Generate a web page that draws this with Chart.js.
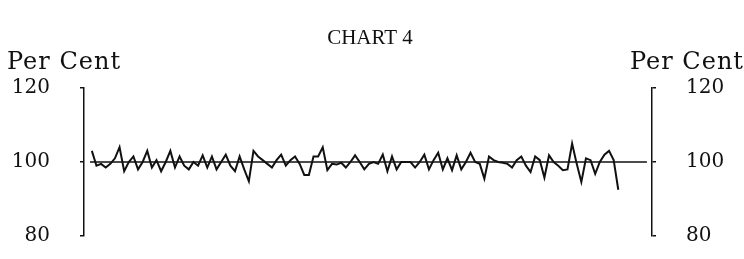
<!DOCTYPE html>
<html>
<head>
<meta charset="utf-8">
<script src="https://cdn.jsdelivr.net/npm/chart.js@4/dist/chart.umd.min.js"></script>
<style>
  html, body { margin: 0; padding: 0; background: #fff; overflow: hidden; }
  canvas { display: block; }
</style>
</head>
<body>
<canvas id="chart4" width="744" height="259"></canvas>
<script>
// values (per cent), one per period
const seriesValues = [
  103, 99, 99.5, 98.5, 99.5, 101, 104, 97.5, 100, 101.5,
  98, 100, 103, 98.5, 100.5, 97.5, 100, 103, 98.5, 101.5,
  99, 98, 100, 99, 101.8, 98.5, 101.5, 98, 100, 102,
  99, 97.5, 101.5, 98, 94.8, 103, 101.5, 100.5, 99.5, 98.5,
  100.5, 102, 99, 100.5, 101.5, 99.5, 96.5, 96.5, 101.5, 101.5,
  104, 97.8, 99.5, 99.3, 99.8, 98.5, 100, 101.8, 100, 98,
  99.5, 100, 99.5, 102, 97.5, 101.5, 98, 100, 100, 100,
  98.5, 100, 102, 98, 100.5, 102.5, 98, 101, 97.8, 101.8,
  98, 100, 102.5, 100, 99.5, 95.5, 101.5, 100.5, 100, 99.8,
  99.5, 98.5, 100.5, 101.5, 99, 97.3, 101.5, 100.5, 95.8, 101.8,
  100, 99, 97.8, 98, 105, 99.5, 94.6, 101, 100.5, 96.8,
  100, 102, 103, 100.5, 92.5
];
const periods = seriesValues.map((v, i) => i);
const baseLevel = 100;
const baseSpan = [-0.4, 120.2];
const yTicks = [80, 100, 120];
const titleText = 'CHART 4';
const axisLabel = 'Per Cent';

const textPlugin = {
  id: 'chartText',
  afterDraw(chart) {
    const c = chart.ctx;
    c.save();
    c.fillStyle = '#111';
    c.textBaseline = 'middle';
    c.font = '21px "Liberation Serif"';
    c.textAlign = 'center';
    c.fillText(titleText, 370, 38);
    c.font = '24px "DejaVu Serif"';
    c.letterSpacing = '1px';
    c.textAlign = 'left';
    c.fillText(axisLabel, 7, 63);
    c.textAlign = 'right';
    c.fillText(axisLabel, 744, 63);
    c.restore();
  }
};

const tickFont = { family: '"DejaVu Serif"', size: 20 };

// keep tick label padding from pushing the plot area in
function fitAxis(width) {
  return s => { s.width = width; s.paddingTop = 0; s.paddingBottom = 0; };
}

new Chart(document.getElementById('chart4'), {
  type: 'line',
  data: {
    datasets: [
      {
        data: periods.map((p, i) => ({ x: p, y: seriesValues[i] })),
        borderColor: '#111',
        borderWidth: 2,
        pointRadius: 0,
        tension: 0,
        yAxisID: 'yL'
      },
      {
        data: baseSpan.map(x => ({ x: x, y: baseLevel })),
        borderColor: '#111',
        borderWidth: 1.5,
        pointRadius: 0,
        yAxisID: 'yL'
      }
    ]
  },
  options: {
    responsive: false,
    animation: false,
    layout: { padding: { top: 88, bottom: 23, left: 0, right: 0 } },
    plugins: { legend: { display: false }, tooltip: { enabled: false }, title: { display: false } },
    scales: {
      x: { type: 'linear', min: -1.7, max: 121.3, display: false },
      yL: {
        position: 'left', min: 80, max: 120,
        afterFit: fitAxis(84),
        afterBuildTicks(s) { s.ticks = yTicks.map(v => ({ value: v })); },
        border: { display: true, color: '#111', width: 1.5 },
        grid: { drawOnChartArea: false, drawTicks: true, tickLength: 4, color: '#111', lineWidth: 1.5 },
        ticks: { color: '#111', font: tickFont, padding: 30 }
      },
      yR: {
        position: 'right', min: 80, max: 120,
        afterFit: fitAxis(92),
        afterBuildTicks(s) { s.ticks = yTicks.map(v => ({ value: v })); },
        border: { display: true, color: '#111', width: 1.5 },
        grid: { drawOnChartArea: false, drawTicks: true, tickLength: 4, color: '#111', lineWidth: 1.5 },
        ticks: { color: '#111', font: tickFont, padding: 30 }
      }
    }
  },
  plugins: [textPlugin]
});
</script>
</body>
</html>
